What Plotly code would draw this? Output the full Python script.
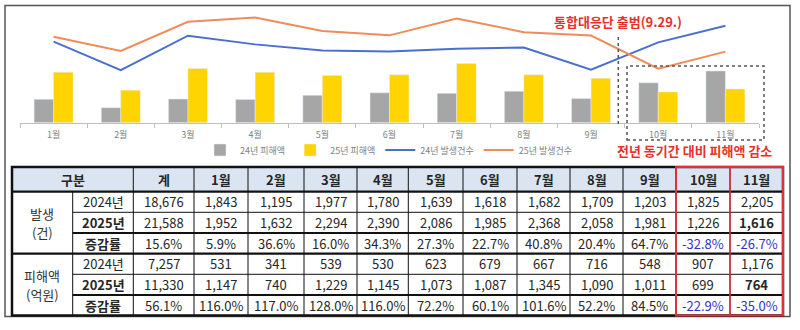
import plotly.graph_objects as go

# ---------------- data ----------------
months = ["1월", "2월", "3월", "4월", "5월", "6월", "7월", "8월", "9월", "10월", "11월"]
occ_2024 = [1843, 1195, 1977, 1780, 1639, 1618, 1682, 1709, 1203, 1825, 2205]
occ_2025 = [1952, 1632, 2294, 2390, 2086, 1985, 2368, 2058, 1981, 1226, 1616]
dmg_2024 = [531, 341, 539, 530, 623, 679, 667, 716, 548, 907, 1176]
dmg_2025 = [1147, 740, 1229, 1145, 1073, 1087, 1345, 1090, 1011, 699, 764]
occ_total = [18676, 21588]
dmg_total = [7257, 11330]
occ_rate = ["15.6%", "5.9%", "36.6%", "16.0%", "34.3%", "27.3%", "22.7%", "40.8%", "20.4%", "64.7%", "-32.8%", "-26.7%"]
dmg_rate = ["56.1%", "116.0%", "117.0%", "128.0%", "116.0%", "72.2%", "60.1%", "101.6%", "52.2%", "84.5%", "-22.9%", "-35.0%"]
header = ["구분", "계"] + months
group_labels = [("발생", "(건)"), ("피해액", "(억원)")]
sub_labels = ["2024년", "2025년", "증감률"]
legend_names = ["24년 피해액", "25년 피해액", "24년 발생건수", "25년 발생건수"]
note_top = "통합대응단 출범(9.29.)"
note_bottom = "전년 동기간 대비 피해액 감소"

W, H = 800, 330
FONT = "Noto Sans CJK KR"


def px(x):
    return x / W


def py(y):
    return 1 - y / H


fig = go.Figure()
fig.add_trace(go.Bar(x=months, y=dmg_2024, name=legend_names[0], marker_color="#a6a6a6"))
fig.add_trace(go.Bar(x=months, y=dmg_2025, name=legend_names[1], marker_color="#ffd400"))
fig.add_trace(go.Scatter(x=months, y=occ_2024, name=legend_names[2], mode="lines",
                         line=dict(color="#4a6fcc", width=2)))
fig.add_trace(go.Scatter(x=months, y=occ_2025, name=legend_names[3], mode="lines",
                         line=dict(color="#ee8c5a", width=2)))

shapes = []
annotations = []

# outer frame
shapes.append(dict(type="rect", xref="paper", yref="paper", x0=px(5), x1=px(790), y0=py(316.5), y1=py(5.5),
                   line=dict(color="#555555", width=1.5), layer="below"))

# chart decorations
shapes.append(dict(type="line", xref="paper", yref="paper", x0=px(618.3), x1=px(618.3), y0=py(37), y1=py(125),
                   line=dict(color="#555555", width=1.5, dash="dot")))
shapes.append(dict(type="rect", xref="paper", yref="paper", x0=px(627), x1=px(764), y0=py(140), y1=py(66),
                   line=dict(color="#555555", width=1.5, dash="dot")))
annotations.append(dict(text="<b>" + note_top + "</b>", xref="paper", yref="paper", x=px(617.5), y=py(22),
                        showarrow=False, font=dict(family=FONT, size=13, color="#e8312c"),
                        xanchor="center", yanchor="middle"))
annotations.append(dict(text="<b>" + note_bottom + "</b>", xref="paper", yref="paper", x=px(694), y=py(151),
                        showarrow=False, font=dict(family=FONT, size=13, color="#e8312c"),
                        xanchor="center", yanchor="middle"))

# ---------------- table ----------------
cols = [12, 72.7, 133.3, 194, 248, 304, 357, 408.3, 463, 517, 570, 623, 676, 730, 783]
rows = [167, 191.7, 212.3, 233, 253.6, 274.3, 295, 315.6]
TXT = "#262626"
BLUE = "#3232c8"

shapes.append(dict(type="rect", xref="paper", yref="paper", x0=px(cols[0]), x1=px(cols[-1]),
                   y0=py(rows[1]), y1=py(rows[0]), fillcolor="#dbe5f1", line=dict(width=0), layer="below"))


def hline(y, x0, x1, w):
    shapes.append(dict(type="line", xref="paper", yref="paper", x0=px(x0), x1=px(x1), y0=py(y), y1=py(y),
                       line=dict(color="#111111", width=w)))


def vline(x, y0, y1, w, color="#111111"):
    shapes.append(dict(type="line", xref="paper", yref="paper", x0=px(x), x1=px(x), y0=py(y0), y1=py(y1),
                       line=dict(color=color, width=w)))


for c in cols[2:-1]:
    vline(c, rows[0], rows[-1], 1)
vline(cols[1], rows[1], rows[-1], 1)
hline(rows[1], cols[0], cols[-1], 2.2)
hline(rows[2], cols[1], cols[-1], 1)
hline(rows[3], cols[1], cols[-1], 2.2)
hline(rows[4], cols[0], cols[-1], 2.2)
hline(rows[5], cols[1], cols[-1], 1)
hline(rows[6], cols[1], cols[-1], 2.2)
shapes.append(dict(type="rect", xref="paper", yref="paper", x0=px(cols[0]), x1=px(cols[-1]),
                   y0=py(rows[-1]), y1=py(rows[0]), line=dict(color="#111111", width=2.5)))
# red highlight
shapes.append(dict(type="rect", xref="paper", yref="paper", x0=px(cols[-3]), x1=px(cols[-1]),
                   y0=py(rows[-1]), y1=py(rows[0]), line=dict(color="#e0303a", width=2)))
vline(cols[-2], rows[0], rows[-1], 1.5, color="#e0303a")


def text_at(text, x, y, bold=False, color=TXT, size=13):
    t = "<b>" + text + "</b>" if bold else text
    annotations.append(dict(text=t, xref="paper", yref="paper", x=px(x), y=py(y),
                            showarrow=False, xanchor="center", yanchor="middle",
                            font=dict(family=FONT, size=size, color=color)))


def cell(text, x0, x1, y0, y1, bold=False, color=TXT, size=13):
    text_at(text, (x0 + x1) / 2, (y0 + y1) / 2, bold, color, size)


# header
cell(header[0], cols[0], cols[2], rows[0], rows[1], bold=True)
for i, h in enumerate(header[1:]):
    cell(h, cols[2 + i], cols[3 + i], rows[0], rows[1], bold=True)

# group labels (two lines each)
for g, (l1, l2) in enumerate(group_labels):
    mid = (rows[1 + g * 3] + rows[4 + g * 3]) / 2
    xc = (cols[0] + cols[1]) / 2
    text_at(l1, xc, mid - 9.5, color="#333333")
    text_at(l2, xc, mid + 9.5, color="#333333")

# sub labels
for g in range(2):
    for k, s in enumerate(sub_labels):
        r = 1 + g * 3 + k
        cell(s, cols[1], cols[2], rows[r], rows[r + 1], bold=(k > 0))


def fmt(v):
    return f"{v:,}"


blocks = [
    ([occ_total[0]] + occ_2024, [occ_total[1]] + occ_2025, occ_rate),
    ([dmg_total[0]] + dmg_2024, [dmg_total[1]] + dmg_2025, dmg_rate),
]
for g, (a, b, rate) in enumerate(blocks):
    r0 = 1 + g * 3
    for i in range(len(a)):
        x0, x1 = cols[2 + i], cols[3 + i]
        cell(fmt(a[i]), x0, x1, rows[r0], rows[r0 + 1])
        cell(fmt(b[i]), x0, x1, rows[r0 + 1], rows[r0 + 2], bold=(i == len(a) - 1))
        neg = rate[i].startswith("-")
        cell(rate[i], x0, x1, rows[r0 + 2], rows[r0 + 3], color=BLUE if neg else TXT)

fig.update_layout(
    width=W, height=H,
    margin=dict(l=0, r=0, t=0, b=0),
    paper_bgcolor="white", plot_bgcolor="white",
    font=dict(family=FONT),
    barmode="group", bargap=0.42, bargroupgap=0,
    showlegend=True,
    legend=dict(orientation="h", x=px(389), xanchor="center", y=py(150), yanchor="middle",
                font=dict(size=9, color="#7f7f7f", family=FONT), itemwidth=30,
                bgcolor="rgba(0,0,0,0)"),
    xaxis=dict(domain=[px(20), px(759)], type="category", showline=True, linecolor="#bfbfbf", linewidth=1,
               ticks="outside", tickson="boundaries", ticklen=4, tickcolor="#bfbfbf",
               tickfont=dict(size=9, color="#7f7f7f", family=FONT), showgrid=False, fixedrange=True,
               ticklabelstandoff=3),
    yaxis=dict(domain=[py(122.7), py(8.3)], range=[0, 2600], visible=False, showgrid=False, fixedrange=True),
    shapes=shapes,
    annotations=annotations,
)

fig.write_html("out.html")
